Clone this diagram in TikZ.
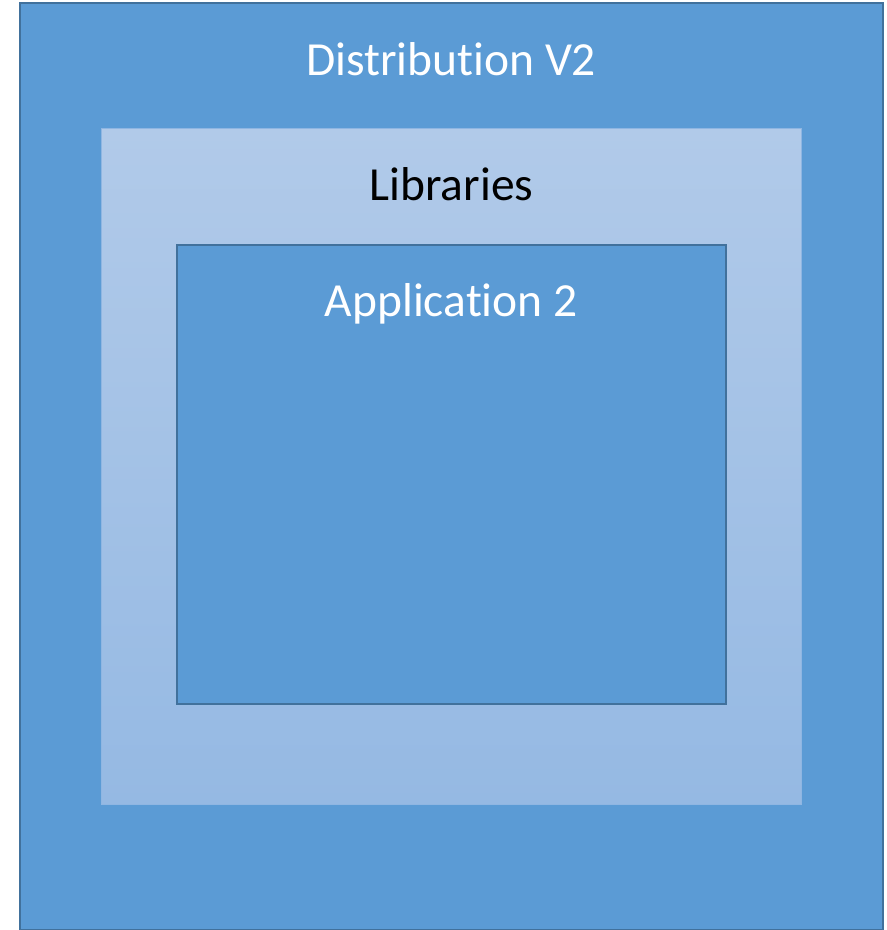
\documentclass[tikz,border=0pt]{standalone}
\usepackage{fontspec}
\setmainfont[Ligatures=NoCommon]{Carlito}
\usetikzlibrary{positioning}
\definecolor{boxblue}{HTML}{5B9BD5}
\definecolor{boxedge}{HTML}{41719C}
\definecolor{libtop}{HTML}{B1CAE9}
\definecolor{libbottom}{HTML}{95B9E3}
\tikzset{box/.style={rectangle, draw=boxedge, fill=boxblue, line width=1.5pt, anchor=north west, inner sep=0pt},
         libbox/.style={rectangle, draw=libbottom!90!boxblue, line width=1pt, top color=libtop, bottom color=libbottom, anchor=north west, inner sep=0pt},
         label/.style={anchor=base, font=\fontsize{47.5}{52}\selectfont, inner sep=0pt}}
\begin{document}
\begin{tikzpicture}[x=1pt, y=-1pt]
\useasboundingbox (0,0) rectangle (887,930);

% boxes
    \node [box, minimum width=863pt, minimum height=927pt] (dist) at (19,2) {};
    \node [libbox, minimum width=700pt, minimum height=676pt] (libs) at (101,128) {};
    \node [box, minimum width=549pt, minimum height=459pt] (app) at (176,244) {};
% labels
    \node [label, text=white] (distlabel) at ([yshift=-73pt]dist.north) {Distribution V2};
    \node [label, text=black] (libslabel) at ([yshift=-72pt]libs.north) {Libraries};
    \node [label, text=white] (applabel) at ([yshift=-72pt]app.north) {Application 2};

\end{tikzpicture}
\end{document}
